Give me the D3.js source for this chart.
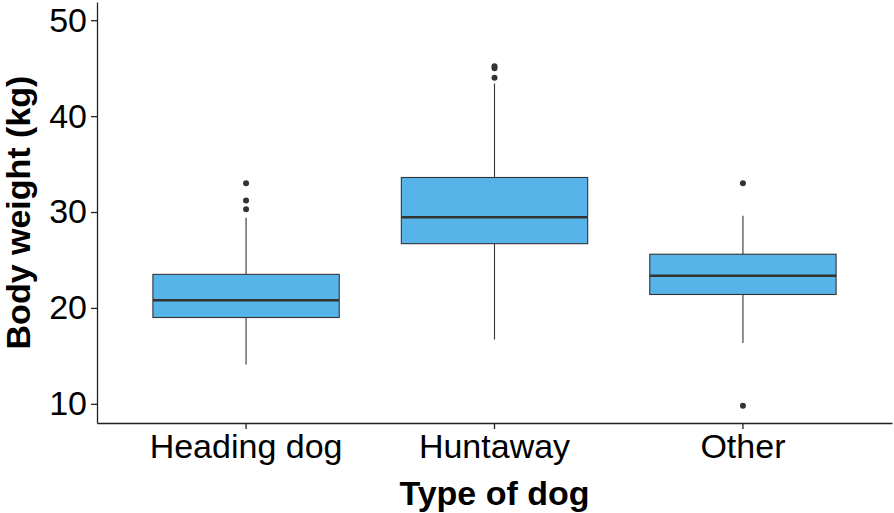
<!DOCTYPE html>
<html>
<head>
<meta charset="utf-8">
<script src="https://cdn.jsdelivr.net/npm/d3@7"></script>
<style>
  html, body { margin: 0; padding: 0; background: #fff; }
  svg { display: block; font-family: "Liberation Sans", Arial, sans-serif; }
</style>
</head>
<body>
<svg id="chart" width="894" height="513"></svg>
<script>
const categories = ["Heading dog", "Huntaway", "Other"];
const q1 = [19.0, 26.7, 21.4];
const median = [20.8, 29.45, 23.35];
const q3 = [23.5, 33.6, 25.6];
const whiskerLow = [14.1, 16.7, 16.35];
const whiskerHigh = [29.4, 43.4, 29.6];
const outliers = [[33.0, 31.2, 30.3], [45.2, 45.0, 44.0], [33.0, 9.8]];
const yTicks = [10, 20, 30, 40, 50];
const xTitle = "Type of dog";
const yTitle = "Body weight (kg)";

const svg = d3.select("#chart");
const margin = { left: 97, right: 2, top: 2, bottom: 90 };
const W = 894, H = 513;

const x = d3.scaleBand()
  .domain(categories)
  .range([margin.left, W - margin.right])
  .paddingInner(0)
  .paddingOuter(0.1);
const y = d3.scaleLinear()
  .domain([8.0, 51.9])
  .range([H - margin.bottom, margin.top]);

const boxW = x.step() * 0.75;
const boxes = categories.map((c, i) => ({
  cat: c, q1: q1[i], med: median[i], q3: q3[i],
  lo: whiskerLow[i], hi: whiskerHigh[i], out: outliers[i]
}));

const g = svg.append("g");
const cx = d => x(d.cat) + x.bandwidth() / 2;

// whiskers
g.selectAll("line.wh-up").data(boxes).join("line")
  .attr("class", "wh-up")
  .attr("x1", cx).attr("x2", cx)
  .attr("y1", d => y(d.q3)).attr("y2", d => y(d.hi))
  .attr("stroke", "#333").attr("stroke-width", 1.1);
g.selectAll("line.wh-lo").data(boxes).join("line")
  .attr("class", "wh-lo")
  .attr("x1", cx).attr("x2", cx)
  .attr("y1", d => y(d.q1)).attr("y2", d => y(d.lo))
  .attr("stroke", "#333").attr("stroke-width", 1.1);

// boxes
g.selectAll("rect.box").data(boxes).join("rect")
  .attr("class", "box")
  .attr("x", d => cx(d) - boxW / 2)
  .attr("width", boxW)
  .attr("y", d => y(d.q3))
  .attr("height", d => y(d.q1) - y(d.q3))
  .attr("fill", "#56B4E9")
  .attr("stroke", "#333").attr("stroke-width", 1.1);

// medians
g.selectAll("line.med").data(boxes).join("line")
  .attr("class", "med")
  .attr("x1", d => cx(d) - boxW / 2).attr("x2", d => cx(d) + boxW / 2)
  .attr("y1", d => y(d.med)).attr("y2", d => y(d.med))
  .attr("stroke", "#333").attr("stroke-width", 2.6);

// outliers
boxes.forEach(b => {
  g.selectAll(null).data(b.out).join("circle")
    .attr("cx", cx(b)).attr("cy", v => y(v)).attr("r", 3)
    .attr("fill", "#333");
});

// axes
const xAxis = svg.append("g")
  .attr("transform", `translate(0,${H - margin.bottom})`)
  .call(d3.axisBottom(x).tickSize(6).tickSizeOuter(0).tickPadding(5));
xAxis.select(".domain").attr("stroke", "#222").attr("stroke-width", 1.3);
xAxis.selectAll(".tick line").attr("stroke", "#222").attr("stroke-width", 1.3);
xAxis.selectAll(".tick text")
  .attr("font-size", 34).attr("fill", "#000")
  .attr("font-family", "Liberation Sans, Arial, sans-serif");

const yAxis = svg.append("g")
  .attr("transform", `translate(${margin.left},0)`)
  .call(d3.axisLeft(y).tickValues(yTicks).tickSize(6).tickSizeOuter(0).tickPadding(4));
yAxis.select(".domain").attr("stroke", "#222").attr("stroke-width", 1.3);
yAxis.selectAll(".tick line").attr("stroke", "#222").attr("stroke-width", 1.3);
yAxis.selectAll(".tick text")
  .attr("font-size", 34).attr("fill", "#000")
  .attr("font-family", "Liberation Sans, Arial, sans-serif");

// titles
svg.append("text")
  .attr("x", (margin.left + W - margin.right) / 2)
  .attr("y", 505)
  .attr("text-anchor", "middle")
  .attr("font-size", 34).attr("font-weight", "bold").attr("fill", "#000")
  .text(xTitle);

svg.append("text")
  .attr("transform", `translate(30,${(margin.top + H - margin.bottom) / 2}) rotate(-90)`)
  .attr("text-anchor", "middle")
  .attr("font-size", 34).attr("font-weight", "bold").attr("fill", "#000")
  .text(yTitle);
</script>
</body>
</html>
